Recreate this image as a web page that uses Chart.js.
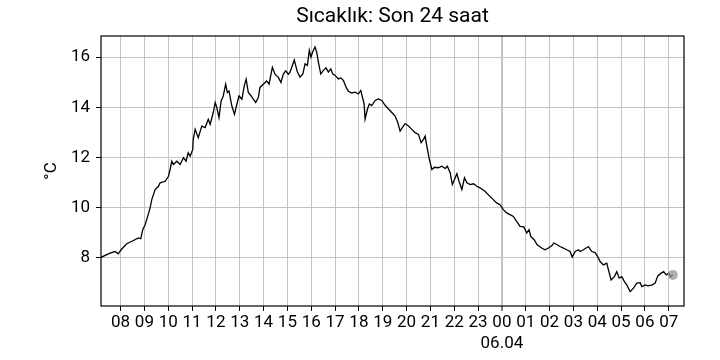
<!DOCTYPE html>
<html>
<head>
<meta charset="utf-8">
<script src="https://cdn.jsdelivr.net/npm/chart.js@4/dist/chart.umd.min.js"></script>
<style>
    html, body { margin: 0; padding: 0; background: #fff; }
    #wrap { width: 720px; height: 360px; }
</style>
</head>
<body>
<div id="wrap"><canvas id="temp-chart" width="720" height="360"></canvas></div>
<script>
// Sıcaklık, son 24 saat (saat: 05.04 00:00'dan itibaren)
const chartTitle = 'Sıcaklık: Son 24 saat';
const yLabel = '°C';
const dayLabel = '06.04';
const dayStart = 24;

const hours = [
    7.18, 7.56, 7.77, 7.90, 8.05, 8.26, 8.54, 8.75, 8.85, 8.93,
    9.03, 9.12, 9.24, 9.31, 9.38, 9.45, 9.59, 9.66, 9.87, 10.01,
    10.08, 10.15, 10.22, 10.36, 10.50, 10.64, 10.75, 10.84, 10.92, 11.03, 11.05,
    11.13, 11.26, 11.41, 11.55, 11.68, 11.76, 11.89, 11.97, 12.04, 12.13,
    12.22, 12.31, 12.41, 12.48, 12.55, 12.67, 12.78, 12.88, 12.97, 13.09,
    13.19, 13.27, 13.36, 13.48, 13.57, 13.67, 13.78, 13.85, 13.99, 14.13,
    14.23, 14.37, 14.48, 14.62, 14.73, 14.83, 14.93, 15.04, 15.11, 15.29,
    15.42, 15.53, 15.65, 15.74, 15.84, 15.92, 15.99, 16.06, 16.16, 16.23,
    16.30, 16.40, 16.51, 16.62, 16.72, 16.82, 16.90, 17.00, 17.14, 17.24,
    17.35, 17.46, 17.56, 17.70, 17.84, 17.98, 18.08, 18.15, 18.22, 18.26,
    18.36, 18.44, 18.54, 18.68, 18.82, 18.96, 19.10, 19.24,
    19.38, 19.52, 19.63, 19.73, 19.82, 19.94, 20.08, 20.22, 20.36, 20.50,
    20.61, 20.71, 20.78, 20.85, 20.94, 21.06, 21.17, 21.33, 21.48, 21.62,
    21.71, 21.83, 21.92, 22.01, 22.11, 22.20, 22.32, 22.43, 22.53, 22.67,
    22.81, 22.95, 23.08, 23.29,
    23.50, 23.64, 23.78, 23.92, 24.06, 24.20, 24.34, 24.48, 24.62, 24.76,
    24.92, 25.04, 25.14, 25.21, 25.35, 25.48, 25.67, 25.81, 25.95, 26.09,
    26.18, 26.32, 26.44, 26.58, 26.72, 26.86, 26.95, 27.07, 27.21,
    27.28, 27.42, 27.63, 27.77, 27.91, 28.02, 28.12, 28.26, 28.40, 28.47,
    28.58, 28.72, 28.82, 28.92, 29.03, 29.14, 29.24, 29.38, 29.52, 29.66,
    29.80, 29.87, 30.01, 30.13, 30.31, 30.43, 30.54, 30.68, 30.79, 30.89,
    31.00, 31.07, 31.17
];

const temps = [
    8.02, 8.19, 8.25, 8.16, 8.35, 8.56, 8.69, 8.79, 8.76, 9.12,
    9.32, 9.59, 9.99, 10.32, 10.52, 10.72, 10.85, 10.99, 11.05, 11.25,
    11.52, 11.85, 11.72, 11.85, 11.72, 11.99, 11.85, 12.19, 12.05, 12.32, 12.72,
    13.12, 12.79, 13.25, 13.19, 13.52, 13.32, 13.79, 14.19, 13.99, 13.59,
    14.25, 14.45, 14.92, 14.59, 14.65, 14.05, 13.72, 14.12, 14.45, 14.32,
    14.85, 15.12, 14.59, 14.45, 14.32, 14.19, 14.39, 14.79, 14.92, 15.05,
    14.92, 15.59, 15.32, 15.19, 14.99, 15.32, 15.45, 15.32, 15.40, 15.88,
    15.40, 15.20, 15.33, 15.73, 15.67, 16.27, 16.00, 16.20, 16.40, 16.20,
    15.80, 15.33, 15.47, 15.57, 15.40, 15.53, 15.33, 15.27, 15.13, 15.17,
    15.07, 14.80, 14.64, 14.57, 14.60, 14.53, 14.67, 14.40, 14.13, 13.53,
    13.93, 14.13, 14.07, 14.27, 14.33, 14.27, 14.08, 13.93,
    13.79, 13.65, 13.39, 13.05, 13.19, 13.35, 13.25, 13.12, 12.99, 12.92,
    12.59, 12.72, 12.85, 12.45, 11.99, 11.52, 11.61, 11.59, 11.65, 11.56,
    11.65, 11.39, 10.92, 11.12, 11.35, 11.05, 10.72, 11.19, 10.99, 10.92,
    10.95, 10.85, 10.79, 10.65,
    10.45, 10.32, 10.19, 10.12, 9.92, 9.79, 9.72, 9.65, 9.45, 9.25,
    9.23, 8.99, 9.12, 8.85, 8.72, 8.52, 8.39, 8.32, 8.39, 8.48,
    8.59, 8.52, 8.45, 8.39, 8.32, 8.25, 8.03, 8.25, 8.32,
    8.25, 8.32, 8.45, 8.25, 8.21, 8.05, 7.85, 7.72, 7.79, 7.52,
    7.12, 7.25, 7.45, 7.19, 7.25, 7.05, 6.92, 6.65, 6.79, 6.99,
    7.01, 6.85, 6.92, 6.88, 6.92, 6.99, 7.28, 7.39, 7.45, 7.32,
    7.39, 7.25, 7.32
];

const yTicks = [8, 10, 12, 14, 16];

const FONT = "'Roboto', sans-serif";
const points = hours.map((h, i) => ({ x: h, y: temps[i] }));
const lastIdx = points.length - 1;

// title centred over the plot + box around the plot area
const framePlugin = {
    id: 'frame',
    afterDraw(chart) {
        const { ctx, chartArea } = chart;
        ctx.save();
        ctx.strokeStyle = '#000';
        ctx.lineWidth = 1.2;
        ctx.strokeRect(chartArea.left, chartArea.top,
            chartArea.right - chartArea.left, chartArea.bottom - chartArea.top);
        ctx.fillStyle = '#000';
        ctx.font = '21px ' + FONT;
        ctx.textAlign = 'center';
        ctx.textBaseline = 'middle';
        ctx.fillText(chartTitle, (chartArea.left + chartArea.right) / 2, 17);
        ctx.restore();
    }
};

function hourLabel(v) {
    const h = Math.round(v) % 24;
    const s = (h < 10 ? '0' : '') + h;
    return Math.round(v) === dayStart ? [s, dayLabel] : s;
}

new Chart(document.getElementById('temp-chart'), {
    type: 'line',
    data: {
        datasets: [{
            data: points,
            borderColor: '#000',
            borderWidth: 1.3,
            tension: 0,
            fill: false,
            pointRadius: ctx => ctx.dataIndex === lastIdx ? 5 : 0,
            pointHoverRadius: 0,
            pointBorderWidth: 0,
            pointBackgroundColor: 'rgba(150,150,150,0.75)'
        }]
    },
    options: {
        responsive: false,
        animation: false,
        layout: { padding: { top: 36, right: 36, left: 0, bottom: 0 } },
        plugins: {
            legend: { display: false },
            title: { display: false },
            tooltip: { enabled: false }
        },
        scales: {
            x: {
                type: 'linear',
                min: 7.18,
                max: 31.64,
                afterFit: scale => { scale.height = 54; },
                border: { display: false },
                grid: {
                    color: '#c4c4c4',
                    lineWidth: ctx => ctx.tick && ctx.tick.value === dayStart ? 2 : 1,
                    tickColor: '#000',
                    tickLength: 5,
                    tickWidth: 1
                },
                ticks: {
                    stepSize: 1,
                    includeBounds: false,
                    autoSkip: false,
                    maxRotation: 0,
                    padding: 2,
                    color: '#000',
                    font: { family: FONT, size: 17, lineHeight: 1.2 },
                    callback: v => hourLabel(v)
                }
            },
            y: {
                min: 6.08,
                max: 16.84,
                afterFit: scale => { scale.width = 101; },
                afterBuildTicks: scale => { scale.ticks = yTicks.map(v => ({ value: v })); },
                border: { display: false },
                grid: {
                    color: '#c4c4c4',
                    lineWidth: 1,
                    tickColor: '#000',
                    tickLength: 5
                },
                ticks: {
                    padding: 6,
                    color: '#000',
                    font: { family: FONT, size: 17 }
                },
                title: {
                    display: true,
                    text: yLabel,
                    color: '#000',
                    padding: { top: 42, bottom: 0 },
                    font: { family: FONT, size: 17 }
                }
            }
        }
    },
    plugins: [framePlugin]
});
</script>
</body>
</html>
